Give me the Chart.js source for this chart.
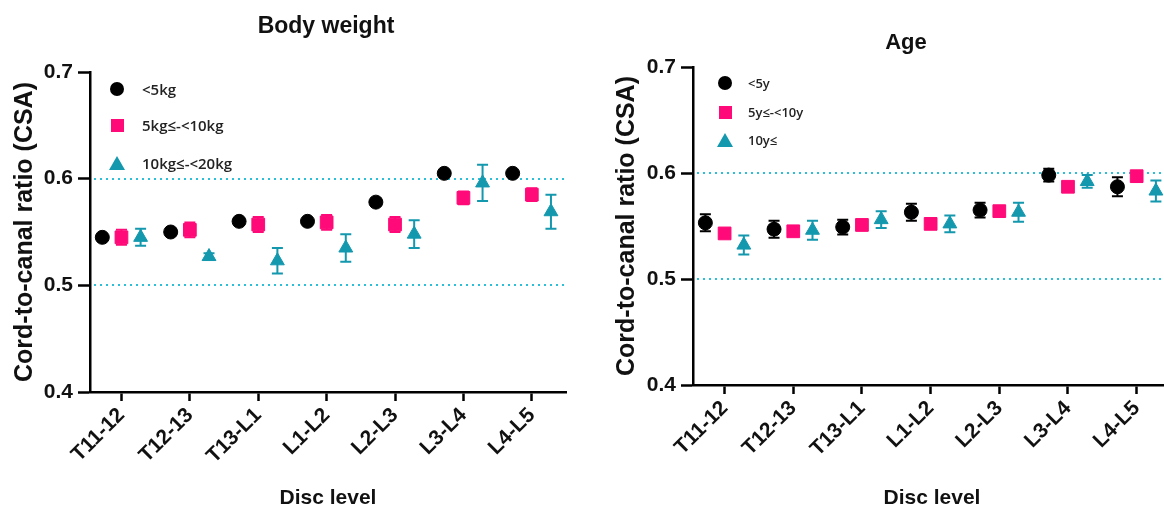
<!DOCTYPE html>
<html>
<head>
<meta charset="utf-8">
<title>Cord-to-canal ratio by body weight and age</title>
<script src="https://cdn.jsdelivr.net/npm/chart.js@4.4.1/dist/chart.umd.min.js"></script>
<style>
  html, body { margin: 0; padding: 0; background: #fff; overflow: hidden; }
  #wrap { position: relative; width: 1164px; height: 512px; overflow: hidden; }
  canvas { position: absolute; top: 0; }
  #bwChart { left: 0; }
  #ageChart { left: 610px; }
  .panel-title { position: absolute; font-family: 'Liberation Sans', Arial, sans-serif; font-weight: bold; color: #111;
                 transform: translate(-50%, -50%); white-space: nowrap; }
  .leg-item { position: absolute; white-space: nowrap; font-family: 'Open Sans', sans-serif; font-weight: 600; color: #222; }
  .mk { position: absolute; }
  .mk.circle { border-radius: 50%; }
</style>
</head>
<body>
<div id="wrap">
  <canvas id="bwChart" width="650" height="512"></canvas>
  <canvas id="ageChart" width="590" height="512"></canvas>
  <div class="panel-title" style="left:326px; top:25px; font-size:23px;">Body weight</div>
  <div class="panel-title" style="left:906px; top:42px; font-size:22px;">Age</div>
</div>
<script>
// ─── Data ─────────────────────────────────────────────────────────────────────
const categories = ['T11-12', 'T12-13', 'T13-L1', 'L1-L2', 'L2-L3', 'L3-L4', 'L4-L5'];
const yTicks = [0.4, 0.5, 0.6, 0.7];
const refLines = [0.5, 0.6];

// Body weight groups (mean, ± error)
const bwLabels = ['<5kg', '5kg≤-<10kg', '10kg≤-<20kg'];
const bwUnder5 = [0.545, 0.550, 0.560, 0.560, 0.578, 0.605, 0.605];
const bwUnder5Err = [0.003, 0.003, 0.003, 0.003, 0.003, 0.003, 0.003];
const bw5to10 = [0.545, 0.552, 0.557, 0.559, 0.557, 0.582, 0.585];
const bw5to10Err = [0.007, 0.007, 0.007, 0.007, 0.007, 0.006, 0.006];
const bw10to20 = [0.545, 0.527, 0.523, 0.535, 0.548, 0.596, 0.569];
const bw10to20Err = [0.008, 0.003, 0.012, 0.013, 0.013, 0.017, 0.016];

// Age groups (mean, ± error)
const ageLabels = ['<5y', '5y≤-<10y', '10y≤'];
const ageUnder5 = [0.553, 0.547, 0.549, 0.563, 0.565, 0.598, 0.587];
const ageUnder5Err = [0.008, 0.008, 0.007, 0.008, 0.007, 0.006, 0.009];
const age5to10 = [0.543, 0.545, 0.551, 0.552, 0.564, 0.587, 0.597];
const age5to10Err = [0.004, 0.003, 0.005, 0.004, 0.004, 0.004, 0.005];
const ageOver10 = [0.532, 0.546, 0.556, 0.552, 0.563, 0.592, 0.583];
const ageOver10Err = [0.009, 0.009, 0.008, 0.008, 0.009, 0.006, 0.010];

// ─── Style ────────────────────────────────────────────────────────────────────
const colors = ['#000000', '#ff0a78', '#1398ae'];
const shapes = ['circle', 'rect', 'triangle'];
const radii = [7, 9, 8];
const shift = [-0.28, 0, 0.28];
const refColor = '#2cc0d8';
const axisFont = "'Liberation Sans', Arial, sans-serif";

// ─── Error bars + dotted reference lines ─────────────────────────────────────
const errorBars = {
  id: 'errorBars',
  beforeDatasetsDraw(chart) {
    const { ctx, chartArea, scales: { x, y } } = chart;
    ctx.save();
    ctx.strokeStyle = refColor;
    ctx.lineWidth = 2;
    ctx.setLineDash([2, 4]);
    refLines.forEach(v => {
      const py = Math.round(y.getPixelForValue(v));
      ctx.beginPath();
      ctx.moveTo(chartArea.left + 4, py);
      ctx.lineTo(chartArea.right, py);
      ctx.stroke();
    });
    ctx.setLineDash([]);
    chart.data.datasets.forEach(ds => {
      ctx.strokeStyle = ds.borderColor;
      ctx.lineWidth = 2;
      ds.data.forEach((pt, j) => {
        const e = ds.errors[j];
        const px = x.getPixelForValue(pt.x);
        const top = y.getPixelForValue(pt.y + e);
        const bot = y.getPixelForValue(pt.y - e);
        const cap = 5.5;
        ctx.beginPath();
        ctx.moveTo(px, top); ctx.lineTo(px, bot);
        ctx.moveTo(px - cap, top); ctx.lineTo(px + cap, top);
        ctx.moveTo(px - cap, bot); ctx.lineTo(px + cap, bot);
        ctx.stroke();
      });
    });
    ctx.restore();
  }
};

function makeDatasets(labels, series, errs) {
  return series.map((vals, k) => ({
    label: labels[k],
    data: vals.map((v, i) => ({ x: i + shift[k], y: v })),
    errors: errs[k],
    pointStyle: shapes[k],
    pointRadius: radii[k],
    pointHoverRadius: radii[k],
    backgroundColor: colors[k],
    borderColor: colors[k],
    borderWidth: 1,
    showLine: false
  }));
}

function buildChart(id, cfg) {
  return new Chart(document.getElementById(id), {
    type: 'scatter',
    data: { datasets: makeDatasets(cfg.labels, cfg.series, cfg.errs) },
    plugins: [errorBars],
    options: {
      responsive: false,
      animation: false,
      layout: { padding: { left: 0, right: cfg.padRight, top: cfg.padTop, bottom: 0 } },
      plugins: {
        legend: { display: false },
        tooltip: { enabled: false }
      },
      scales: {
        x: {
          type: 'linear',
          min: -0.46,
          max: categories.length - 0.5,
          afterBuildTicks: s => { s.ticks = categories.map((_, i) => ({ value: i })); },
          afterFit: s => { s.height = cfg.xHeight; },
          ticks: {
            autoSkip: false,
            minRotation: 45,
            maxRotation: 45,
            padding: 2,
            color: '#111',
            font: { family: axisFont, size: 21, weight: 'bold' },
            callback: v => categories[v]
          },
          grid: { display: true, drawOnChartArea: false, drawTicks: true, tickLength: 9, tickColor: '#000', tickWidth: 2.5 },
          border: { display: true, color: '#000', width: 2.5 },
          title: {
            display: true,
            text: 'Disc level',
            color: '#111',
            font: { family: axisFont, size: 21, weight: 'bold', lineHeight: 1.2 },
            padding: { top: 0, bottom: 1 }
          }
        },
        y: {
          min: 0.4,
          max: 0.7,
          afterBuildTicks: s => { s.ticks = yTicks.map(v => ({ value: v })); },
          afterFit: s => { s.width = cfg.yWidth; },
          ticks: {
            padding: 5,
            color: '#111',
            font: { family: axisFont, size: 21, weight: 'bold' },
            callback: v => v.toFixed(1)
          },
          grid: { display: true, drawOnChartArea: false, drawTicks: true, tickLength: 12, tickColor: '#000', tickWidth: 2.5 },
          border: { display: true, color: '#000', width: 2.5 },
          title: {
            display: true,
            text: 'Cord-to-canal ratio (CSA)',
            color: '#111',
            font: { family: axisFont, size: 25, weight: 'bold', lineHeight: 1.2 },
            padding: { top: cfg.yTitlePad, bottom: 0 }
          }
        }
      }
    }
  });
}

buildChart('bwChart', {
  labels: bwLabels,
  series: [bwUnder5, bw5to10, bw10to20],
  errs: [bwUnder5Err, bw5to10Err, bw10to20Err],
  padRight: 84,
  padTop: 72,
  xHeight: 120,
  yWidth: 90,
  yTitlePad: 10
});

buildChart('ageChart', {
  labels: ageLabels,
  series: [ageUnder5, age5to10, ageOver10],
  errs: [ageUnder5Err, age5to10Err, ageOver10Err],
  padRight: 29,
  padTop: 67,
  xHeight: 127,
  yWidth: 83,
  yTitlePad: 2
});

// ─── Legends (inside plot areas) ─────────────────────────────────────────────
function addLegend(labels, mx, tx, ys, fontSize) {
  const wrap = document.getElementById('wrap');
  labels.forEach((lab, k) => {
    const m = document.createElement('div');
    m.className = 'mk ' + (k === 0 ? 'circle' : '');
    if (k === 0) {
      Object.assign(m.style, { width: '14px', height: '14px', left: (mx - 7) + 'px', top: (ys[k] - 7) + 'px', background: colors[0] });
    } else if (k === 1) {
      Object.assign(m.style, { width: '13px', height: '13px', left: (mx - 6.5) + 'px', top: (ys[k] - 6.5) + 'px', background: colors[1] });
    } else {
      Object.assign(m.style, { width: 0, height: 0, left: (mx - 8) + 'px', top: (ys[k] - 7) + 'px',
        borderLeft: '8px solid transparent', borderRight: '8px solid transparent', borderBottom: '14px solid ' + colors[2] });
    }
    wrap.appendChild(m);
    const t = document.createElement('div');
    t.className = 'leg-item';
    t.textContent = lab;
    Object.assign(t.style, { left: tx + 'px', top: (ys[k] - fontSize * 0.7) + 'px', fontSize: fontSize + 'px', lineHeight: (fontSize * 1.4) + 'px' });
    wrap.appendChild(t);
  });
}

addLegend(bwLabels, 117, 142, [89, 125, 163], 15);
addLegend(ageLabels, 725, 748, [83, 112, 140], 13);
</script>
</body>
</html>
